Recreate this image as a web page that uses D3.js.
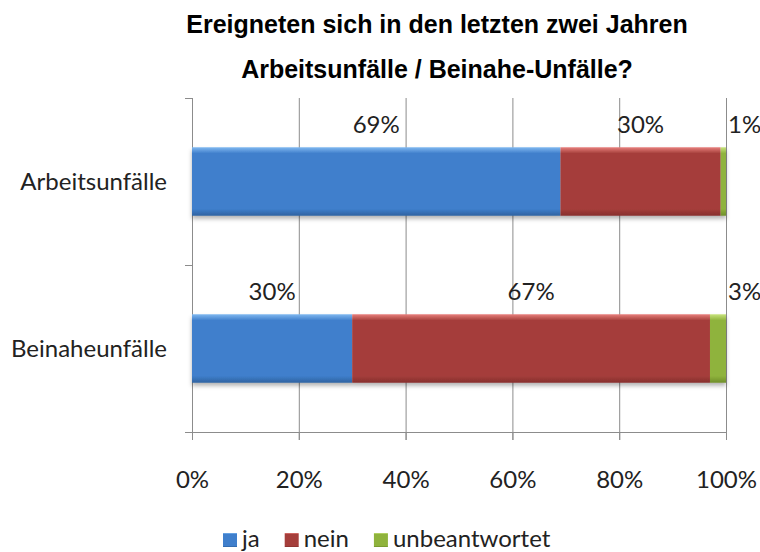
<!DOCTYPE html>
<html>
<head>
<meta charset="utf-8">
<script src="https://cdn.jsdelivr.net/npm/d3@7"></script>
<style>
  body { margin: 0; background: #fff; }
  text { font-family: Lato, "Open Sans", sans-serif; fill: #222; }
  .title { font-family: "Liberation Sans", Arial, sans-serif; font-weight: bold; font-size: 25px; fill: #000; }
</style>
</head>
<body>
<svg id="chart" width="760" height="552"></svg>
<script>
// data
var categories = ["Arbeitsunfälle", "Beinaheunfälle"];
var seriesNames = ["ja", "nein", "unbeantwortet"];
var ja = [69, 30];
var nein = [30, 67];
var unbeantwortet = [1, 3];
var xTicks = [0, 20, 40, 60, 80, 100];
var titleLines = ["Ereigneten sich in den letzten zwei Jahren", "Arbeitsunfälle / Beinahe-Unfälle?"];

var colors = {
    ja: ["#80b8f0", "#3f7fcc", "#2f62a0"],
    nein: ["#e8807c", "#a53e3b", "#862f2d"],
    unbeantwortet: ["#c8e37d", "#8fb33c", "#6f8e2a"]
};

var svg = d3.select("#chart");
var defs = svg.append("defs");

seriesNames.forEach(function(s) {
    var g = defs.append("linearGradient")
        .attr("id", "grad-" + s)
        .attr("x1", 0).attr("y1", 0).attr("x2", 0).attr("y2", 1);
    g.append("stop").attr("offset", "0%").attr("stop-color", colors[s][0]);
    g.append("stop").attr("offset", "9%").attr("stop-color", colors[s][1]);
    g.append("stop").attr("offset", "90%").attr("stop-color", colors[s][1]);
    g.append("stop").attr("offset", "100%").attr("stop-color", colors[s][2]);
});

var shadow = defs.append("filter").attr("id", "shadow")
    .attr("x", "-5%").attr("y", "-20%").attr("width", "110%").attr("height", "150%");
shadow.append("feDropShadow").attr("dx", 0).attr("dy", 3).attr("stdDeviation", 2)
    .attr("flood-color", "#000").attr("flood-opacity", 0.3);

// title
svg.selectAll("text.title")
    .data(titleLines)
    .enter().append("text")
    .attr("class", "title")
    .attr("x", 437)
    .attr("y", function(d, i) { return 33 + i * 45; })
    .attr("text-anchor", "middle")
    .text(function(d) { return d; });

var x = d3.scaleLinear().domain([0, 100]).range([192, 726]);
var y = d3.scaleBand().domain(categories).range([98, 432]).padding(0);
var barH = y.bandwidth() * 0.41;

// gridlines
svg.append("g")
    .selectAll("line")
    .data(xTicks.slice(1))
    .enter().append("line")
    .attr("x1", function(d) { return x(d) + 0.5; })
    .attr("x2", function(d) { return x(d) + 0.5; })
    .attr("y1", 98).attr("y2", 440)
    .attr("stroke", "#8c8c8c").attr("stroke-width", 1);

// x axis
var xAxis = svg.append("g")
    .attr("transform", "translate(0,432)")
    .call(d3.axisBottom(x).tickValues(xTicks).tickSize(8).tickPadding(31)
        .tickFormat(function(d) { return d + "%"; }));
xAxis.select(".domain").attr("stroke", "#8c8c8c").attr("d", "M185,0.5H726");
xAxis.selectAll(".tick line").attr("stroke", "#8c8c8c");
xAxis.selectAll(".tick text").style("font-size", "24px").attr("fill", "#222");

// y axis
var yAxis = svg.append("g").attr("transform", "translate(192,0)");
yAxis.append("line")
    .attr("x1", 0.5).attr("x2", 0.5).attr("y1", 98).attr("y2", 440)
    .attr("stroke", "#8c8c8c");
yAxis.selectAll("line.tk")
    .data([98, 98 + y.bandwidth(), 432])
    .enter().append("line")
    .attr("class", "tk")
    .attr("x1", -7).attr("x2", 0)
    .attr("y1", function(d) { return d + 0.5; })
    .attr("y2", function(d) { return d + 0.5; })
    .attr("stroke", "#8c8c8c");

svg.append("g")
    .selectAll("text")
    .data(categories)
    .enter().append("text")
    .attr("x", 167)
    .attr("y", function(d) { return y(d) + y.bandwidth() / 2 + 8.5; })
    .attr("text-anchor", "end")
    .style("font-size", "24px")
    .text(function(d) { return d; });

// stacked data
var rows = categories.map(function(c, i) {
    return { cat: c, ja: ja[i], nein: nein[i], unbeantwortet: unbeantwortet[i] };
});
var stack = d3.stack().keys(seriesNames)(rows);

var layers = svg.append("g").attr("filter", "url(#shadow)")
    .selectAll("g")
    .data(stack)
    .enter().append("g");

layers.selectAll("rect")
    .data(function(d) { return d; })
    .enter().append("rect")
    .attr("x", function(d) { return x(d[0]); })
    .attr("y", function(d) { return y(d.data.cat) + (y.bandwidth() - barH) / 2; })
    .attr("width", function(d) { return x(d[1]) - x(d[0]); })
    .attr("height", barH)
    .attr("fill", function() { return "url(#grad-" + d3.select(this.parentNode).datum().key + ")"; });

// data labels
stack.forEach(function(layer) {
    svg.append("g")
        .selectAll("text")
        .data(layer)
        .enter().append("text")
        .attr("x", function(d) {
            var v = d[1] - d[0];
            return v < 5 ? x(100) + 2 : x((d[0] + d[1]) / 2);
        })
        .attr("y", function(d) { return y(d.data.cat) + (y.bandwidth() - barH) / 2 - 14; })
        .attr("text-anchor", function(d) { return (d[1] - d[0]) < 5 ? "start" : "middle"; })
        .style("font-size", "24px")
        .text(function(d) { return (d[1] - d[0]) + "%"; });
});

// legend, items flow left to right
var legend = svg.append("g")
    .selectAll("g")
    .data(seriesNames)
    .enter().append("g");
legend.append("rect")
    .attr("y", 533)
    .attr("width", 14).attr("height", 14)
    .attr("fill", function(d) { return "url(#grad-" + d + ")"; });
legend.append("text")
    .attr("x", 19).attr("y", 547)
    .style("font-size", "24px")
    .text(function(d) { return d; });
var lx = 223;
legend.each(function() {
    var w = this.querySelector("text").getComputedTextLength();
    d3.select(this).attr("transform", "translate(" + lx + ",0)");
    lx += 19 + w + 25;
});
</script>
</body>
</html>
